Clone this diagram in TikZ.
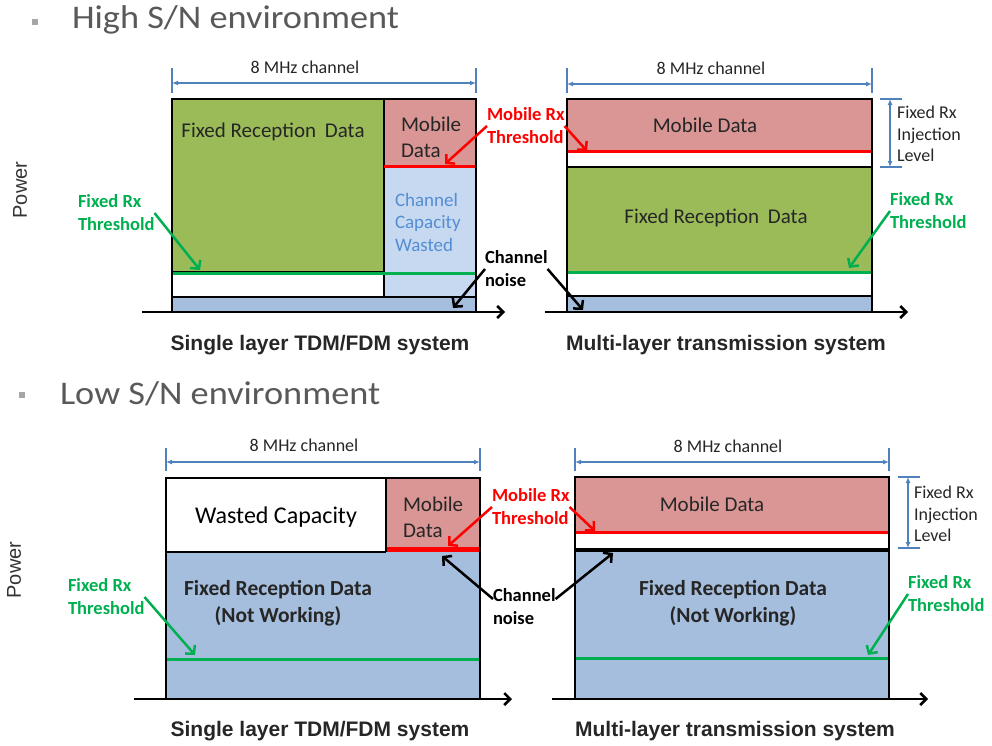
\documentclass[tikz,border=0pt]{standalone}
\usepackage{fontspec}
\setmainfont{Carlito}
\newfontfamily\arialf{Liberation Sans}
\usetikzlibrary{arrows.meta}
\definecolor{fgreen}{HTML}{9BBB59}
\definecolor{mpink}{HTML}{D99694}
\definecolor{wblue}{HTML}{C6D9F1}
\definecolor{dblue}{HTML}{A6BEDD}
\definecolor{thrgreen}{HTML}{00B050}
\definecolor{dimblue}{HTML}{4F81BD}
\definecolor{capblue}{HTML}{548DD4}
\definecolor{boxtext}{HTML}{262626}
\definecolor{headgray}{HTML}{595959}
\definecolor{bulletgray}{HTML}{A6A6A6}
\definecolor{powtext}{HTML}{333333}
\newcommand\fsz[2]{\fontsize{#1}{#2}\selectfont}
\begin{document}
\begin{tikzpicture}[x=1pt,y=-1pt,
  every node/.style={inner sep=0pt, outer sep=0pt},
  frame/.style={draw=black, line width=2.2pt},
  sep/.style={draw=black, line width=2pt},
  gline/.style={draw=thrgreen, line width=3pt},
  rline/.style={draw=red, line width=3pt},
  axis/.style={line width=2.5pt, -{Straight Barb[length=6pt,width=12pt]}},
  dimline/.style={draw=dimblue, line width=1.3pt, {Latex[length=6pt,width=5pt]}-{Latex[length=6pt,width=5pt]}},
  dimtick/.style={draw=dimblue, line width=1.2pt},
  conn/.style={line width=2.5pt, -{Straight Barb[length=6pt,width=13pt]}},
  chlbl/.style={font=\fsz{18}{20}, text=boxtext},
  boxlbl/.style={font=\fsz{21}{26}, text=boxtext},
  boldlbl/.style={font=\bfseries\fsz{21.5}{27}, text=boxtext, align=center},
  thrlbl/.style={font=\bfseries\fsz{18.5}{23}, align=left, anchor=west},
  injlbl/.style={font=\fsz{18}{21.5}, align=left, anchor=west, text=boxtext},
  title/.style={font=\arialf\bfseries\fsz{21}{25}, text=boxtext},
  power/.style={font=\arialf\fsz{20}{24}, rotate=90, text=powtext},
  header/.style={font=\fsz{33}{38}, text=headgray, anchor=base west},
]
\useasboundingbox (0,0) rectangle (992,745);

% ---------- headers ----------
\fill[bulletgray] (32,19) rectangle (38,25);
\node[header] (h1) at (72,28) {\scalebox{1.1}[1]{High S/N environment}};
\fill[bulletgray] (19,392) rectangle (25,398);
\node[header] (h2) at (60,404) {\scalebox{1.1}[1]{Low S/N environment}};

\node[power] (p1) at (20,190) {Power};
\node[power] (p2) at (14,570) {Power};

% ---------- top-left panel ----------
\fill[fgreen] (172,99) rectangle (384,273);
\fill[mpink] (384,99) rectangle (476,166);
\fill[wblue] (384,166) rectangle (476,297);
\fill[dblue] (172,297) rectangle (476,312);
\draw[sep] (384,99) -- (384,297);
\draw[sep] (172,272) -- (384,272);
\draw[sep] (172,297) -- (476,297);
\draw[rline] (384,166) -- (476,166);
\draw[gline] (172,273.5) -- (476,273.5);
\draw[frame] (172,99) rectangle (476,312);
\draw[axis] (142,312) -- (505,312);
\draw[dimtick] (172,68) -- (172,93);
\draw[dimtick] (476,68) -- (476,93);
\draw[dimline] (172,83) -- (476,83);
\node[chlbl] (c1) at (305,67) {8 MHz channel};
\node[boxlbl] (f1) at (273,132) {Fixed Reception\hspace{4pt} Data};
\node[boxlbl, align=left, anchor=west] (m1) at (401,137) {Mobile\\Data};
\node[font=\fsz{19}{22.5}, text=capblue, align=left, anchor=west] (w1) at (395,222) {Channel\\Capacity\\Wasted};
\node[title] (t1) at (320,345) {Single layer TDM/FDM system};
\node[thrlbl, text=thrgreen] (g1) at (78,213) {Fixed Rx\\Threshold};
\coordinate (g1e) at (200,270);

% ---------- top-right panel ----------
\fill[mpink] (567,99) rectangle (872,151);
\fill[fgreen] (567,167) rectangle (872,272);
\fill[dblue] (567,296) rectangle (872,312);
\draw[rline] (567,151) -- (872,151);
\draw[sep] (567,167) -- (872,167);
\draw[gline] (567,272.5) -- (872,272.5);
\draw[sep] (567,296) -- (872,296);
\draw[frame] (567,99) rectangle (872,312);
\draw[axis] (545,312) -- (908,312);
\draw[dimtick] (567,68) -- (567,93);
\draw[dimtick] (872,68) -- (872,93);
\draw[dimline] (567,84) -- (872,84);
\node[chlbl] (c2) at (711,68) {8 MHz channel};
\node[boxlbl] (m2) at (705,125) {Mobile Data};
\node[boxlbl] (f2) at (716,218) {Fixed Reception\hspace{4pt} Data};
\node[title] (t2) at (726,345) {Multi-layer transmission system};
\draw[dimtick] (880,99) -- (902,99);
\draw[dimtick] (880,167) -- (902,167);
\draw[dimline] (890,99) -- (890,167);
\node[injlbl] (i1) at (897,134) {Fixed Rx\\Injection\\Level};
\node[thrlbl, text=thrgreen] (g2) at (890,211) {Fixed Rx\\Threshold};
\coordinate (g2e) at (849,268);

% ---------- top middle labels ----------
\node[thrlbl, text=red] (r1) at (487,126) {Mobile Rx\\Threshold};
\coordinate (r1a) at (445,164);
\coordinate (r1b) at (587,151);
\node[thrlbl, text=black] (n1) at (485,269) {Channel\\noise};
\coordinate (n1a) at (453,308);
\coordinate (n1b) at (583,310);

% ---------- bottom-left panel ----------
\fill[mpink] (386,478) rectangle (480,548);
\fill[dblue] (166,552) rectangle (480,699);
\draw[draw=red, line width=5pt] (386,549.5) -- (480,549.5);
\draw[sep] (166,552) -- (386,552);
\draw[sep] (386,478) -- (386,552);
\draw[gline] (166,659) -- (480,659);
\draw[frame] (166,478) rectangle (480,699);
\draw[axis] (134,699) -- (512,699);
\draw[dimtick] (166,448) -- (166,471);
\draw[dimtick] (480,448) -- (480,471);
\draw[dimline] (166,462) -- (480,462);
\node[chlbl] (c3) at (304,445) {8 MHz channel};
\node[font=\fsz{24}{28}, text=black] (wc) at (276,517) {Wasted Capacity};
\node[boxlbl, align=left, anchor=west] (m3) at (403,517) {Mobile\\Data};
\node[boldlbl] (f3) at (278,603) {Fixed Reception Data\\(Not Working)};
\node[title] (t3) at (320,731) {Single layer TDM/FDM system};
\node[thrlbl, text=thrgreen] (g3) at (68,597) {Fixed Rx\\Threshold};
\coordinate (g3e) at (195,655);

% ---------- bottom-right panel ----------
\fill[mpink] (575,477) rectangle (889,532);
\fill[dblue] (575,550) rectangle (889,699);
\draw[rline] (575,532) -- (889,532);
\draw[draw=black, line width=4pt] (575,549.5) -- (889,549.5);
\draw[gline] (575,658) -- (889,658);
\draw[frame] (575,477) rectangle (889,699);
\draw[axis] (552,699) -- (928,699);
\draw[dimtick] (575,448) -- (575,471);
\draw[dimtick] (889,448) -- (889,471);
\draw[dimline] (575,462) -- (889,462);
\node[chlbl] (c4) at (728,446) {8 MHz channel};
\node[boxlbl] (m4) at (712,504) {Mobile Data};
\node[boldlbl] (f4) at (733,603) {Fixed Reception Data\\(Not Working)};
\node[title] (t4) at (735,731) {Multi-layer transmission system};
\draw[dimtick] (898,477) -- (920,477);
\draw[dimtick] (898,548) -- (920,548);
\draw[dimline] (908,477) -- (908,548);
\node[injlbl] (i2) at (914,514) {Fixed Rx\\Injection\\Level};
\node[thrlbl, text=thrgreen] (g4) at (908,594) {Fixed Rx\\Threshold};
\coordinate (g4e) at (868,655);

% ---------- bottom middle labels ----------
\node[thrlbl, text=red] (r2) at (492,507) {Mobile Rx\\Threshold};
\coordinate (r2a) at (448,546);
\coordinate (r2b) at (595,531);
\node[thrlbl, text=black] (n2) at (493,607) {Channel\\noise};
\coordinate (n2a) at (442,556);
\coordinate (n2b) at (613,553);

% ---------- connectors (on top) ----------
\draw[conn, thrgreen] (g1.east) -- (g1e);
\draw[conn, thrgreen] (g2.west) -- (g2e);
\draw[conn, thrgreen] (g3.east) -- (g3e);
\draw[conn, thrgreen] (g4.west) -- (g4e);
\draw[conn, red] (r1.west) -- (r1a);
\draw[conn, red] (r1.east) -- (r1b);
\draw[conn, red] (r2.west) -- (r2a);
\draw[conn, red] (r2.east) -- (r2b);
\draw[conn] (n1.west) -- (n1a);
\draw[conn] (n1.east) -- (n1b);
\draw[conn] ([yshift=8pt]n2.west) -- (n2a);
\draw[conn] ([yshift=8pt]n2.east) -- (n2b);
\end{tikzpicture}
\end{document}
